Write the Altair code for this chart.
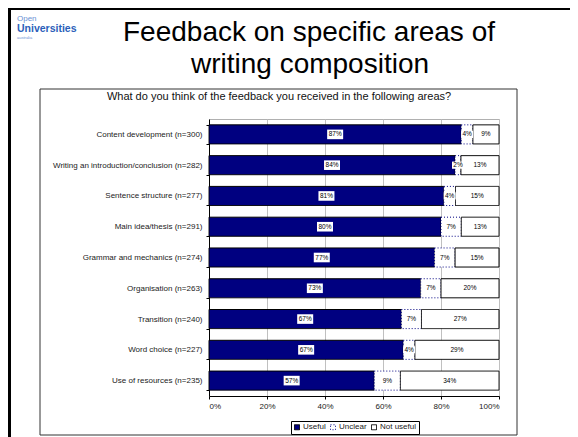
import altair as alt
import pandas as pd

F = "Liberation Sans"

categories = [
    "Content development (n=300)",
    "Writing an introduction/conclusion (n=282)",
    "Sentence structure (n=277)",
    "Main idea/thesis (n=291)",
    "Grammar and mechanics (n=274)",
    "Organisation (n=263)",
    "Transition (n=240)",
    "Word choice (n=227)",
    "Use of resources (n=235)",
]
useful = [87, 84, 81, 80, 77, 73, 67, 67, 57]
unclear = [4, 2, 4, 7, 7, 7, 7, 4, 9]
not_useful = [9, 13, 15, 13, 15, 20, 27, 29, 34]
series_names = ["Useful", "Unclear", "Not useful"]
x_ticks = [0, 0.2, 0.4, 0.6, 0.8, 1.0]

rows = []
for i, c in enumerate(categories):
    vals = [useful[i], unclear[i], not_useful[i]]
    tot = sum(vals)
    cum = 0
    for k, (s, v) in enumerate(zip(series_names, vals)):
        start = cum / tot
        cum += v
        end = cum / tot
        rows.append(dict(cat=c, series=s, start=start, end=end,
                         mid=(start + end) / 2, label=f"{v}%", order=k))
df = pd.DataFrame(rows)

base = alt.Chart(df)

yenc = alt.Y("cat:N", sort=categories, title=None,
             scale=alt.Scale(paddingInner=0.38, paddingOuter=0.19),
             axis=alt.Axis(tickBand="extent", labelFont=F, labelFontSize=8,
                           labelColor="#222", tickSize=3, tickColor="black",
                           ticks=True, domainColor="black", labelPadding=4,
                           labelLimit=300))


def xenc(field):
    return alt.X(field, title=None, scale=alt.Scale(domain=[0, 1]),
                 axis=alt.Axis(format="%", values=x_ticks, grid=True,
                               gridColor="#c0c0c0", labelFont=F,
                               labelFontSize=8, labelColor="#222",
                               tickSize=3, tickColor="black",
                               domainColor="black", labelPadding=3))


bars = base.mark_bar(strokeWidth=1).encode(
    x=xenc("start:Q"),
    x2="end:Q",
    y=yenc,
    color=alt.Color("series:N",
                    scale=alt.Scale(domain=series_names,
                                    range=["#000080", "white", "white"]),
                    legend=alt.Legend(title=None, orient="none", legendX=82,
                                      legendY=302, direction="horizontal",
                                      symbolType="square", symbolSize=25,
                                      symbolStrokeColor="black",
                                      symbolStrokeWidth=1, labelFontSize=8,
                                      labelFont=F, labelColor="#222",
                                      strokeColor="black", padding=2,
                                      columnPadding=2, labelOffset=2,
                                      fillColor="white")),
    stroke=alt.Stroke("series:N",
                      scale=alt.Scale(domain=series_names,
                                      range=["black", "#000080", "black"]),
                      legend=None),
    strokeDash=alt.StrokeDash("series:N",
                              scale=alt.Scale(domain=series_names,
                                              range=[[1, 0], [1, 2], [1, 0]]),
                              legend=None),
    order=alt.Order("order:Q"),
)

box_path = "M-1,-0.6H1V0.6H-1Z"
box_useful = base.transform_filter(alt.datum.series == "Useful").mark_point(
    shape=box_path, filled=True, fill="white", strokeWidth=0, opacity=1,
    size=256).encode(x=xenc("mid:Q"), y=yenc)
box_unclear = base.transform_filter(alt.datum.series == "Unclear").mark_point(
    shape=box_path, filled=True, fill="white", strokeWidth=0, opacity=1,
    size=144).encode(x=xenc("mid:Q"), y=yenc)

labels = base.mark_text(fontSize=6.5, font=F, color="black").encode(
    x=xenc("mid:Q"), y=yenc, text="label:N")


def deco_text(text, x, y, size, align="center", **kw):
    return alt.Chart(pd.DataFrame({"t": [text]})).mark_text(
        fontSize=size, font=F, align=align, baseline="alphabetic", **kw
    ).encode(x=alt.value(x), y=alt.value(y), text="t:N")


def deco_rect(x, x2, y, y2, **kw):
    return alt.Chart(pd.DataFrame({"a": [0]})).mark_rect(**kw).encode(
        x=alt.value(x), x2=alt.value(x2), y=alt.value(y), y2=alt.value(y2))


frame = deco_rect(-169, 308, -30, 316, fillOpacity=0, stroke="#333",
                  strokeWidth=1)
slide_left = deco_rect(-201, -198, -111, 320, fill="black")
slide_top = deco_rect(-201, 361, -111, -109, fill="black")

title1 = deco_text("Feedback on specific areas of", 100, -78, 28, color="black")
title2 = deco_text("writing composition", 101, -46, 28, color="black")
subtitle = deco_text(
    "What do you think of the feedback you received in the following areas?",
    70, -19, 11, color="#111")
logo1 = deco_text("Open", -192, -98, 8, align="left", color="#6a90d4")
logo2 = deco_text("Universities", -192, -87, 10.5, align="left",
                  color="#2c5fba", fontWeight="bold")
logo3 = deco_text("australia", -192, -80, 4, align="left", color="#6a90d4")

chart = alt.layer(
    frame, slide_left, slide_top, title1, title2, subtitle, logo1, logo2,
    logo3, bars, box_useful, box_unclear, labels
).properties(
    width=290, height=277,
    autosize=alt.AutoSizeParams(type="none"),
    padding={"left": 201, "top": 111, "right": 71, "bottom": 41},
    background="white",
).configure_view(stroke="#b0b0b0", strokeWidth=1)

chart.save("out.html", embed_options={"renderer": "svg", "actions": False})
